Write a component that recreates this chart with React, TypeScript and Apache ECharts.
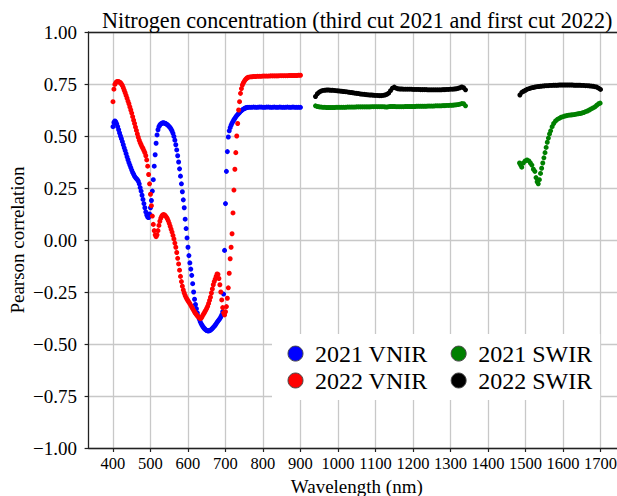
import React, { useEffect, useRef } from "react";
import * as echarts from "echarts";

const chartTitle = "Nitrogen concentration (third cut 2021 and first cut 2022)";
const xAxisName = "Wavelength (nm)";
const yAxisName = "Pearson correlation";
const xTickValues = [400, 500, 600, 700, 800, 900, 1000, 1100, 1200, 1300, 1400, 1500, 1600, 1700];
const seriesNames = ["2021 VNIR", "2022 VNIR", "2021 SWIR", "2022 SWIR"];
const seriesColors = ["#0000ff", "#ff0000", "#008000", "#000000"];

// sensor band grids (wavelength positions in nm)
function bandGrid(start: number, end: number, step: number): number[] {
  const out: number[] = [];
  for (let w = start; w <= end + 1e-9; w += step) out.push(+w.toFixed(1));
  return out;
}
const vnirBands = [...bandGrid(400, 760, 2.5), ...bandGrid(765, 900, 5)];
const swirBandsA = bandGrid(940, 1340, 5);
const swirBandsB = bandGrid(1485, 1700, 5);

// 2021 VNIR (blue)
const vnir2021 = [
  0.545, 0.565, 0.572, 0.568, 0.558, 0.545, 0.53, 0.515, 0.5, 0.487,
  0.473, 0.458, 0.443, 0.43, 0.415, 0.4, 0.386, 0.372, 0.36, 0.348,
  0.336, 0.325, 0.316, 0.307, 0.3, 0.295, 0.29, 0.283, 0.27, 0.252,
  0.235, 0.215, 0.195, 0.175, 0.155, 0.135, 0.12, 0.11, 0.108, 0.125,
  0.155, 0.19, 0.235, 0.29, 0.355, 0.41, 0.465, 0.505, 0.53, 0.545,
  0.553, 0.558, 0.561, 0.563, 0.563, 0.562, 0.56, 0.557, 0.554, 0.55,
  0.545, 0.54, 0.533, 0.524, 0.513, 0.498, 0.48, 0.458, 0.433, 0.405,
  0.375, 0.342, 0.307, 0.27, 0.232, 0.193, 0.155, 0.1, 0.055, 0.01,
  -0.035, -0.075, -0.11, -0.14, -0.17, -0.21, -0.25, -0.285, -0.31, -0.33,
  -0.35, -0.367, -0.38, -0.392, -0.402, -0.41, -0.417, -0.423, -0.428, -0.432,
  -0.435, -0.437, -0.437, -0.436, -0.433, -0.43, -0.425, -0.42, -0.415, -0.41,
  -0.403, -0.396, -0.39, -0.384, -0.378, -0.37, -0.36, -0.345, -0.26, -0.05,
  0.175, 0.33, 0.425, 0.495, 0.525, 0.54, 0.552, 0.562, 0.57, 0.578,
  0.585, 0.592, 0.598, 0.603, 0.608, 0.613, 0.618, 0.622, 0.626, 0.629,
  0.632, 0.634, 0.636, 0.637, 0.638,
  0.638, 0.638, 0.639, 0.638, 0.638, 0.639, 0.639, 0.638, 0.638, 0.639,
  0.639, 0.638, 0.638, 0.639, 0.638, 0.638, 0.639, 0.638, 0.638, 0.638,
  0.639, 0.638, 0.638, 0.639, 0.638, 0.638, 0.638, 0.638,
];

// 2022 VNIR (red)
const vnir2022 = [
  0.665, 0.725, 0.748, 0.757, 0.761, 0.762, 0.761, 0.759, 0.756, 0.75,
  0.743, 0.732, 0.72, 0.708, 0.695, 0.682, 0.668, 0.655, 0.64, 0.625,
  0.61, 0.593, 0.576, 0.56, 0.543, 0.527, 0.51, 0.494, 0.48, 0.468,
  0.458, 0.448, 0.44, 0.43, 0.42, 0.405, 0.385, 0.355, 0.315, 0.27,
  0.22, 0.165, 0.115, 0.075, 0.045, 0.025, 0.016, 0.025, 0.045, 0.07,
  0.09, 0.105, 0.115, 0.12, 0.122, 0.12, 0.116, 0.11, 0.102, 0.092,
  0.08, 0.066, 0.052, 0.038, 0.022, 0.005, -0.015, -0.035, -0.06, -0.088,
  -0.115, -0.145, -0.175, -0.2, -0.222, -0.24, -0.255, -0.267, -0.277, -0.285,
  -0.292, -0.299, -0.306, -0.314, -0.322, -0.33, -0.338, -0.346, -0.353, -0.359,
  -0.365, -0.37, -0.374, -0.377, -0.376, -0.369, -0.36, -0.353, -0.345, -0.337,
  -0.328, -0.318, -0.305, -0.29, -0.275, -0.255, -0.235, -0.215, -0.2, -0.188,
  -0.175, -0.163, -0.165, -0.185, -0.215, -0.25, -0.288, -0.325, -0.35, -0.36,
  -0.345, -0.32, -0.28, -0.23, -0.16, -0.09, -0.035, 0.03, 0.13, 0.24,
  0.34, 0.42, 0.5, 0.56, 0.625, 0.665, 0.705, 0.728, 0.745, 0.755,
  0.763, 0.77, 0.775, 0.779, 0.782,
  0.784, 0.785, 0.786, 0.786, 0.787, 0.787, 0.787, 0.788, 0.788, 0.788,
  0.788, 0.789, 0.789, 0.789, 0.789, 0.789, 0.79, 0.79, 0.79, 0.79,
  0.79, 0.791, 0.791, 0.791, 0.791, 0.791, 0.792, 0.792,
];

// 2021 SWIR (green), 940-1340 nm
const swir2021A = [
  0.645, 0.642, 0.64, 0.639, 0.638, 0.638, 0.637, 0.637, 0.637, 0.637,
  0.637, 0.638, 0.638, 0.638, 0.638, 0.638, 0.638, 0.639, 0.639, 0.639,
  0.639, 0.639, 0.64, 0.64, 0.64, 0.64, 0.64, 0.64, 0.64, 0.64,
  0.641, 0.641, 0.641, 0.641, 0.641, 0.641, 0.641, 0.64, 0.639, 0.641,
  0.642, 0.642, 0.642, 0.641, 0.641, 0.641, 0.641, 0.641, 0.642, 0.642,
  0.642, 0.642, 0.642, 0.642, 0.643, 0.643, 0.643, 0.643, 0.643, 0.643,
  0.644, 0.644, 0.644, 0.644, 0.645, 0.645, 0.645, 0.645, 0.646, 0.646,
  0.647, 0.647, 0.648, 0.648, 0.649, 0.65, 0.651, 0.653, 0.656, 0.655,
  0.645,
];
// 2021 SWIR (green), 1480-1700 nm as [wavelength, r]
const swir2021B: [number, number][] = [
  [1484, 0.37], [1487, 0.36], [1490, 0.35], [1494, 0.37], [1499, 0.38],
  [1504, 0.385], [1509, 0.38], [1513, 0.37], [1517, 0.36], [1521, 0.34],
  [1525, 0.33], [1528, 0.3], [1531, 0.28], [1534, 0.27], [1537, 0.29],
  [1540, 0.32], [1543, 0.345], [1546, 0.37], [1549, 0.395], [1552, 0.42],
  [1555, 0.445], [1558, 0.47], [1561, 0.49], [1564, 0.51], [1567, 0.525],
  [1571, 0.545], [1575, 0.56], [1580, 0.572], [1585, 0.58], [1590, 0.585],
  [1595, 0.59], [1600, 0.593], [1605, 0.596], [1610, 0.598], [1615, 0.6],
  [1620, 0.601], [1625, 0.602], [1630, 0.603], [1635, 0.605], [1640, 0.607],
  [1645, 0.608], [1650, 0.61], [1655, 0.613], [1660, 0.617], [1665, 0.62],
  [1670, 0.625], [1675, 0.63], [1680, 0.635], [1685, 0.64], [1690, 0.648],
  [1695, 0.655], [1699, 0.658],
];

// 2022 SWIR (black), 940-1340 nm
const swir2022A = [
  0.69, 0.703, 0.711, 0.716, 0.719, 0.72, 0.721, 0.721, 0.72, 0.72,
  0.719, 0.718, 0.717, 0.716, 0.715, 0.714, 0.713, 0.712, 0.71, 0.709,
  0.708, 0.706, 0.705, 0.704, 0.702, 0.701, 0.7, 0.699, 0.698, 0.697,
  0.697, 0.696, 0.695, 0.695, 0.694, 0.694, 0.695, 0.697, 0.7, 0.706,
  0.718, 0.73, 0.735, 0.73, 0.727, 0.726, 0.726, 0.725, 0.725, 0.725,
  0.725, 0.725, 0.724, 0.724, 0.724, 0.724, 0.723, 0.723, 0.723, 0.723,
  0.722, 0.722, 0.722, 0.722, 0.722, 0.722, 0.722, 0.722, 0.723, 0.723,
  0.724, 0.724, 0.725, 0.725, 0.726, 0.727, 0.729, 0.732, 0.736, 0.732,
  0.722,
];
// 2022 SWIR (black), 1485-1700 nm
const swir2022B = [
  0.697, 0.71, 0.715, 0.72, 0.725, 0.728, 0.731, 0.733, 0.735, 0.737,
  0.738, 0.739, 0.74, 0.741, 0.742, 0.742, 0.743, 0.743, 0.744, 0.744,
  0.744, 0.745, 0.745, 0.745, 0.745, 0.745, 0.745, 0.745, 0.745, 0.744,
  0.744, 0.744, 0.744, 0.743, 0.743, 0.742, 0.742, 0.741, 0.74, 0.739,
  0.737, 0.735, 0.73, 0.724,
];

const zip = (xs: number[], ys: number[]) => ys.map((y, i) => [xs[i], y]);

const FONT = "'Liberation Serif', 'Times New Roman', serif";
const SPINE = "#222";
const GRIDC = "#c8c8c8";
const X_MIN = 335;
const X_MAX = 1765;

export default function App() {
  const ref = useRef<HTMLDivElement>(null);
  useEffect(() => {
    if (!ref.current) return;
    const chart = echarts.init(ref.current, undefined, { renderer: "svg" });
    const seriesData = [
      zip(vnirBands, vnir2021),
      zip(vnirBands, vnir2022),
      [...zip(swirBandsA, swir2021A), ...swir2021B],
      [...zip(swirBandsA, swir2022A), ...zip(swirBandsB, swir2022B)],
    ];
    const legendCommon = {
      icon: "circle",
      itemWidth: 29,
      itemHeight: 15,
      itemGap: 23,
      selectedMode: false,
      textStyle: { fontSize: 24, fontFamily: FONT, color: "#000" },
      itemStyle: { borderColor: "#444", borderWidth: 1 },
    };
    chart.setOption({
      animation: false,
      backgroundColor: "#fff",
      title: {
        text: chartTitle,
        left: 102,
        top: 9,
        padding: 0,
        textStyle: { fontSize: 22.15, fontWeight: "normal", fontFamily: FONT, color: "#000" },
      },
      grid: {
        left: 88.6,
        right: -7.9,
        top: 32,
        bottom: 48,
        outerBoundsMode: "none",
        containLabel: false,
      },
      legend: [
        {
          ...legendCommon,
          data: [seriesNames[0], seriesNames[2]],
          left: 272,
          top: 334,
          padding: [7.6, 8, 34.4, 15.5],
          backgroundColor: "#fff",
        },
        {
          ...legendCommon,
          data: [seriesNames[1], seriesNames[3]],
          left: 287.5,
          top: 368.5,
          padding: 0,
        },
      ],
      xAxis: [
        {
          type: "value",
          min: X_MIN,
          max: X_MAX,
          position: "bottom",
          name: xAxisName,
          nameLocation: "middle",
          nameGap: 27,
          nameTextStyle: { fontSize: 19, fontFamily: FONT, color: "#000" },
          axisLine: { show: true, onZero: false, lineStyle: { color: SPINE, width: 1.3 } },
          axisTick: { show: true, length: 4, customValues: xTickValues, lineStyle: { color: SPINE, width: 1.2 } },
          axisLabel: {
            customValues: xTickValues,
            fontSize: 16.5,
            fontFamily: FONT,
            color: "#000",
            margin: 7,
            formatter: (v: number) => String(v),
          },
          splitLine: { show: true, lineStyle: { color: GRIDC, width: 1.3 } },
        },
        {
          type: "value",
          min: X_MIN,
          max: X_MAX,
          position: "top",
          axisLine: { show: true, onZero: false, lineStyle: { color: SPINE, width: 1.3 } },
          axisTick: { show: false },
          axisLabel: { show: false },
          splitLine: { show: false },
        },
      ],
      yAxis: {
        type: "value",
        min: -1,
        max: 1,
        interval: 0.25,
        name: yAxisName,
        nameLocation: "middle",
        nameGap: 62,
        nameMoveOverlap: false,
        nameTextStyle: { fontSize: 19, fontFamily: FONT, color: "#000" },
        axisLine: { show: true, onZero: false, lineStyle: { color: SPINE, width: 1.3 } },
        axisTick: { show: true, length: 4, lineStyle: { color: SPINE, width: 1.2 } },
        axisLabel: {
          fontSize: 19,
          fontFamily: FONT,
          color: "#000",
          margin: 11.6,
          formatter: (v: number) => v.toFixed(2).replace("-", "\u2212"),
        },
        splitLine: { show: true, lineStyle: { color: GRIDC, width: 1.3 } },
      },
      series: seriesNames.map((name, i) => ({
        name,
        type: "scatter",
        xAxisIndex: 0,
        data: seriesData[i],
        symbol: "circle",
        symbolSize: 5,
        itemStyle: { color: seriesColors[i], opacity: 1 },
        emphasis: { disabled: true },
      })),
    });
    return () => chart.dispose();
  }, []);
  return (
    <div
      ref={ref}
      style={{ position: "absolute", left: 0, top: 0, width: 617, height: 496 }}
    />
  );
}
